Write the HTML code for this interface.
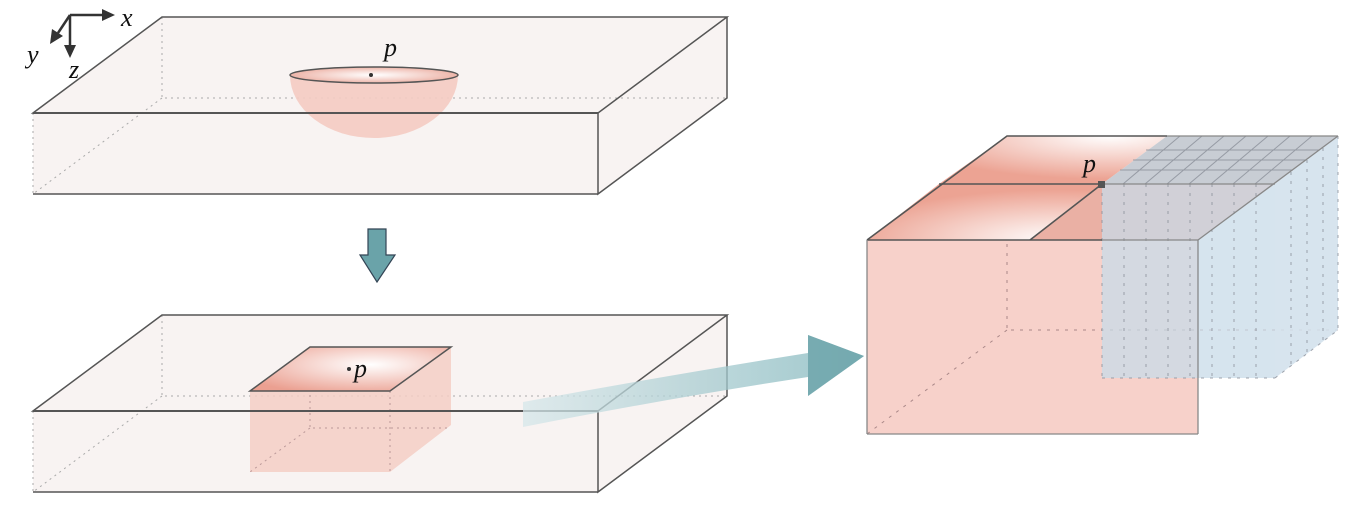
<!DOCTYPE html>
<html><head><meta charset="utf-8"><style>
html,body{margin:0;padding:0;background:#fff;}
svg{display:block;}
text{font-family:"Liberation Serif",serif;font-style:italic;fill:#111;}
</style></head><body>
<svg width="1358" height="506" viewBox="0 0 1358 506" xmlns="http://www.w3.org/2000/svg">
<defs>
<radialGradient id="rg1" cx="0.5" cy="0.5" r="0.6">
<stop offset="0" stop-color="#fff"/><stop offset="1" stop-color="#eaa698"/></radialGradient>
<radialGradient id="rg2" cx="0.6" cy="0.4" r="0.7">
<stop offset="0" stop-color="#fff"/><stop offset="1" stop-color="#eba091"/></radialGradient>
<radialGradient id="rg3" cx="0.82" cy="1" r="0.9">
<stop offset="0" stop-color="#fff"/><stop offset="1" stop-color="#eca393"/></radialGradient>
<radialGradient id="rg4" cx="0.75" cy="0" r="0.9">
<stop offset="0" stop-color="#fff"/><stop offset="1" stop-color="#eca393"/></radialGradient>
<linearGradient id="arr" x1="0" x2="1"><stop offset="0" stop-color="#d6e7ea"/><stop offset="1" stop-color="#7fb4ba"/></linearGradient>
</defs>

<!-- Top slab -->
<polygon points="33,113 162,17 727,17 727,98 598,194 33,194" fill="#f8f3f2"/>
<polyline points="162,17 162,98 727,98" fill="none" stroke="#aaa" stroke-dasharray="2,4"/>
<line x1="162" y1="98" x2="33" y2="194" stroke="#aaa" stroke-dasharray="2,4"/>
<line x1="727" y1="17" x2="727" y2="98" stroke="#aaa" stroke-dasharray="2,4"/>
<line x1="33" y1="113" x2="33" y2="194" stroke="#aaa" stroke-dasharray="2,4"/>
<!-- hemisphere -->
<path d="M290,75 A84,63 0 0 0 458,75 Z" fill="#f4cbc2" opacity="0.9"/>
<ellipse cx="374" cy="75" rx="84" ry="8" fill="url(#rg1)" stroke="#555" stroke-width="1.5"/>
<circle cx="371" cy="75" r="2" fill="#333"/>
<text x="384" y="56" font-size="26">p</text>
<polygon points="33,113 162,17 727,17 598,113" fill="none" stroke="#555" stroke-width="1.5"/>
<polyline points="598,113 598,194 727,98 727,17" fill="none" stroke="#555" stroke-width="1.5"/>
<line x1="33" y1="113" x2="598" y2="113" stroke="#555" stroke-width="2"/>
<line x1="33" y1="194" x2="598" y2="194" stroke="#555" stroke-width="1.5"/>

<!-- axes -->
<g stroke="#333" stroke-width="2.5" fill="#333">
<line x1="70" y1="15" x2="104" y2="15"/><polygon points="115,15 102,9 102,21" stroke="none"/>
<line x1="70" y1="15" x2="70" y2="46"/><polygon points="70,58 64,45 76,45" stroke="none"/>
<line x1="70" y1="15" x2="58" y2="33"/><polygon points="50,44 52,29 63,36" stroke="none"/>
</g>
<text x="121" y="26" font-size="26">x</text>
<text x="27" y="63" font-size="26">y</text>
<text x="69" y="78" font-size="26">z</text>

<!-- Down arrow -->
<polygon points="368,229 386,229 386,255 395,255 377,282 360,255 368,255" fill="#6aa3a9" stroke="#345" stroke-width="1.2"/>

<!-- Bottom slab -->
<polygon points="33,411 162,315 727,315 727,396 598,492 33,492" fill="#f8f3f2"/>
<polyline points="162,315 162,396 727,396" fill="none" stroke="#aaa" stroke-dasharray="2,4"/>
<line x1="162" y1="396" x2="33" y2="492" stroke="#aaa" stroke-dasharray="2,4"/>
<line x1="727" y1="315" x2="727" y2="396" stroke="#aaa" stroke-dasharray="2,4"/>
<line x1="33" y1="411" x2="33" y2="492" stroke="#aaa" stroke-dasharray="2,4"/>
<!-- inner box -->
<polygon points="250,391 390,391 451,347 451,425 390,472 250,472" fill="#f5cec6" opacity="0.85"/>
<polyline points="310,347 310,428 451,428" fill="none" stroke="#b99" stroke-dasharray="2,4"/>
<line x1="310" y1="428" x2="250" y2="472" stroke="#b99" stroke-dasharray="2,4"/>
<line x1="390" y1="391" x2="390" y2="472" stroke="#b99" stroke-dasharray="2,4"/>
<polygon points="250,391 310,347 451,347 390,391" fill="url(#rg2)" stroke="#555" stroke-width="1.5"/>
<circle cx="349" cy="369" r="2" fill="#333"/>
<text x="354" y="377" font-size="26">p</text>
<polygon points="33,411 162,315 727,315 598,411" fill="none" stroke="#555" stroke-width="1.5"/>
<polyline points="598,411 598,492 727,396 727,315" fill="none" stroke="#555" stroke-width="1.5"/>
<line x1="33" y1="411" x2="598" y2="411" stroke="#555" stroke-width="2"/>
<line x1="33" y1="492" x2="598" y2="492" stroke="#555" stroke-width="1.5"/>

<!-- Big arrow -->
<path d="M523,402 Q670,375 808,353 L808,335 L864,356 L808,396 L808,377 Q670,398 523,427 Z" fill="url(#arr)" opacity="0.75"/>
<path d="M808,353 L808,335 L864,356 L808,396 L808,377" fill="#6aa3a9" opacity="0.8"/>

<!-- Right cube -->
<polygon points="867,240 1198,240 1198,434 867,434" fill="#f7d1ca"/>
<polyline points="1007,136 1007,330 1338,330" fill="none" stroke="#a88" stroke-dasharray="3,6"/>
<line x1="1007" y1="330" x2="867" y2="434" stroke="#a88" stroke-dasharray="3,6"/>
<polygon points="867,240 939,184 1102,184 1030,240" fill="url(#rg3)"/>
<polygon points="939,184 1007,136 1167,136 1102,184" fill="url(#rg4)"/>
<polygon points="1030,240 1102,184 1275,184 1198,240" fill="#eab0a4"/>
<!-- blue box -->
<polygon points="1102,184 1167,136 1338,136 1275,184" fill="#b6bcc6" opacity="0.75"/>
<polygon points="1102,184 1275,184 1275,378 1102,378" fill="#c8dbe8" opacity="0.75"/>
<polygon points="1275,184 1338,136 1338,330 1275,378" fill="#d3e1ec" opacity="0.9"/>
<g stroke="#8a8f99" stroke-width="1" opacity="0.8">
<line x1="1120" y1="170" x2="1293" y2="170"/>
<line x1="1133" y1="160" x2="1306" y2="160"/>
<line x1="1146" y1="150" x2="1319" y2="150"/>
<line x1="1180" y1="136" x2="1123" y2="184"/>
<line x1="1202" y1="136" x2="1145" y2="184"/>
<line x1="1224" y1="136" x2="1167" y2="184"/>
<line x1="1246" y1="136" x2="1189" y2="184"/>
<line x1="1268" y1="136" x2="1211" y2="184"/>
<line x1="1290" y1="136" x2="1233" y2="184"/>
<line x1="1312" y1="136" x2="1255" y2="184"/>
</g>
<g stroke="#8a8f99" stroke-dasharray="3,6" opacity="0.8">
<line x1="1124" y1="184" x2="1124" y2="378"/><line x1="1146" y1="184" x2="1146" y2="378"/>
<line x1="1168" y1="184" x2="1168" y2="378"/><line x1="1190" y1="184" x2="1190" y2="378"/>
<line x1="1212" y1="184" x2="1212" y2="378"/><line x1="1234" y1="184" x2="1234" y2="378"/>
<line x1="1256" y1="184" x2="1256" y2="378"/>
<line x1="1291" y1="172" x2="1291" y2="366"/><line x1="1307" y1="160" x2="1307" y2="354"/>
<line x1="1323" y1="148" x2="1323" y2="342"/>
<line x1="1102" y1="184" x2="1102" y2="378"/>
<line x1="1102" y1="378" x2="1275" y2="378"/>
<line x1="1275" y1="378" x2="1338" y2="330"/>
<line x1="1338" y1="136" x2="1338" y2="330"/>
</g>
<g fill="none" stroke="#555" stroke-width="1.6">
<polyline points="867,240 1007,136 1167,136"/>
<line x1="939" y1="184" x2="1102" y2="184"/>
<line x1="1030" y1="240" x2="1102" y2="184"/>
<line x1="867" y1="240" x2="1102" y2="240"/>
</g>
<g fill="none" stroke="#888" stroke-width="1.3">
<line x1="1102" y1="240" x2="1198" y2="240"/>
<line x1="1167" y1="136" x2="1338" y2="136"/>
<line x1="1102" y1="184" x2="1275" y2="184"/>
<line x1="1338" y1="136" x2="1198" y2="240"/>
<line x1="1198" y1="240" x2="1198" y2="434"/>
<line x1="867" y1="434" x2="1198" y2="434"/>
<line x1="867" y1="240" x2="867" y2="434"/>
</g>
<rect x="1098" y="181" width="7" height="7" fill="#555"/>
<text x="1083" y="172" font-size="26">p</text>
</svg>
</body></html>
